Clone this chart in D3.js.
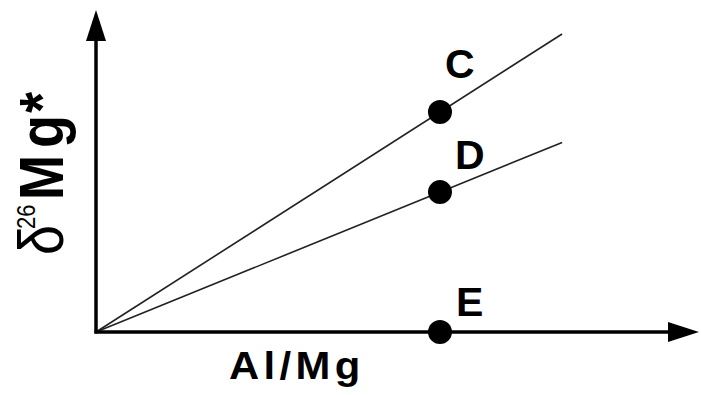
<!DOCTYPE html>
<html>
<head>
<meta charset="utf-8">
<script src="https://cdn.jsdelivr.net/npm/d3@7/dist/d3.min.js"></script>
<style>
  html, body { margin: 0; padding: 0; background: #fff; }
  svg { display: block; }
  text { font-family: "Liberation Sans", Arial, Helvetica, sans-serif; fill: #000; }
</style>
</head>
<body>
<svg id="chart" width="701" height="395"></svg>
<script>
// Samples on the Al/Mg vs δ26Mg* diagram
const pointLabels = ["C", "D", "E"];
const alMgValues = [1, 1, 1];
const d26MgValues = [1, 0.636, 0];

// Isochron lines through the origin (for C and D), drawn out to this Al/Mg
const isochronLabels = ["C", "D"];
const isochronEnd = 1.355;

// Axis extents (arrow tips)
const xMax = 1.753;
const yMax = 1.464;

const svg = d3.select("#chart");

const x = d3.scaleLinear().domain([0, xMax]).range([96, 699]);
const y = d3.scaleLinear().domain([0, yMax]).range([332, 10]);

// isochron lines
const slopeOf = lbl => d26MgValues[pointLabels.indexOf(lbl)] / alMgValues[pointLabels.indexOf(lbl)];
const line = d3.line().x(d => x(d[0])).y(d => y(d[1]));
svg.append("g")
  .selectAll("path")
  .data(isochronLabels)
  .join("path")
  .attr("d", lbl => line([[0, 0], [isochronEnd, slopeOf(lbl) * isochronEnd]]))
  .attr("fill", "none")
  .attr("stroke", "#222")
  .attr("stroke-width", 1.6);

// axes with arrowheads
const axes = svg.append("g");
const arrowLen = 31, arrowHalf = 10;
axes.append("line")
  .attr("x1", x(0)).attr("y1", y(0) + 1.5)
  .attr("x2", x(0)).attr("y2", y(yMax) + arrowLen - 2)
  .attr("stroke", "#000").attr("stroke-width", 3.5);
axes.append("path")
  .attr("d", `M${x(0)},${y(yMax)} L${x(0) - arrowHalf},${y(yMax) + arrowLen} L${x(0) + arrowHalf},${y(yMax) + arrowLen} Z`)
  .attr("fill", "#000");
axes.append("line")
  .attr("x1", x(0) - 1.5).attr("y1", y(0))
  .attr("x2", x(xMax) - arrowLen + 2).attr("y2", y(0))
  .attr("stroke", "#000").attr("stroke-width", 3.5);
axes.append("path")
  .attr("d", `M${x(xMax)},${y(0)} L${x(xMax) - arrowLen},${y(0) - arrowHalf} L${x(xMax) - arrowLen},${y(0) + arrowHalf} Z`)
  .attr("fill", "#000");

// sample points
svg.append("g")
  .selectAll("circle")
  .data(pointLabels)
  .join("circle")
  .attr("cx", (d, i) => x(alMgValues[i]))
  .attr("cy", (d, i) => y(d26MgValues[i]))
  .attr("r", 12)
  .attr("fill", "#000");

// point labels
const labelOffsets = { C: [5, -34], D: [15, -23], E: [16, -16] };
svg.append("g")
  .selectAll("text")
  .data(pointLabels)
  .join("text")
  .attr("x", (d, i) => x(alMgValues[i]) + labelOffsets[d][0])
  .attr("y", (d, i) => y(d26MgValues[i]) + labelOffsets[d][1])
  .attr("font-size", 41)
  .attr("font-weight", "bold")
  .text(d => d);

// x-axis title
svg.append("text")
  .attr("transform", "translate(229,379) scale(1.1,1)")
  .attr("font-size", 38)
  .attr("font-weight", "bold")
  .attr("letter-spacing", 4)
  .text("Al/Mg");

// y-axis title, rotated
const yTitle = svg.append("text")
  .attr("transform", "translate(63,255) scale(1.16,1) rotate(-90)");
yTitle.append("tspan").attr("x", 0).attr("font-size", 54).text("δ");
yTitle.append("tspan").attr("x", 26).attr("dy", -24).attr("font-size", 22).text("26");
yTitle.append("tspan").attr("x", 55).attr("dy", 24).attr("font-size", 54)
  .attr("font-weight", "bold").text("M");
yTitle.append("tspan").attr("x", 107).attr("font-size", 54)
  .attr("font-weight", "bold").text("g");
yTitle.append("tspan").attr("x", 142).attr("font-size", 54)
  .attr("font-weight", "bold").text("*");
</script>
</body>
</html>
